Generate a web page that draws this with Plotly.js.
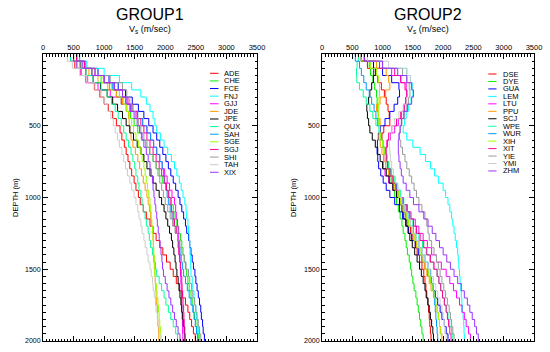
<!DOCTYPE html>
<html>
<head>
<meta charset="utf-8">
<script src="https://cdn.plot.ly/plotly-3.0.1.min.js"></script>
<style>html,body{margin:0;padding:0;background:#fff;}#chart{width:550px;height:352px;}</style>
</head>
<body>
<div id="chart"></div>
<script>
// Layer-top depths (m)
const depth = [0,50,100,150,200,250,300,350,400,450,500,550,600,650,700,750,800,850,900,950,1000,1050,1100,1150,1200,1250,1300,1350,1400,1450,1500,1550,1600,1650,1700,1750,1800,1850,1900,1950,2000];

// GROUP1 station names and Vs values (m/s) per layer
const group1Names = ["ADE","CHE","FCE","FNJ","GJJ","JDE","JPE","QUX","SAH","SGE","SGJ","SHI","TAH","XIX"];
const vsADE = [450,520,620,730,840,930,1000,1070,1140,1200,1260,1290,1330,1360,1390,1420,1450,1490,1520,1560,1590,1640,1690,1750,1800,1850,1910,1960,2020,2080,2130,2180,2230,2280,2330,2370,2400,2430,2460,2490,2510];
const vsCHE = [500,620,800,950,1090,1200,1280,1360,1430,1490,1550,1610,1680,1740,1800,1850,1900,1950,2010,2060,2100,2130,2160,2190,2220,2250,2270,2290,2310,2330,2350,2370,2390,2420,2440,2460,2480,2500,2520,2540,2560];
const vsFCE = [550,680,900,1080,1230,1350,1460,1560,1650,1730,1800,1860,1910,1960,2010,2050,2090,2130,2170,2210,2240,2270,2300,2330,2350,2380,2400,2420,2440,2460,2485,2500,2520,2540,2560,2580,2590,2610,2620,2640,2650];
const vsFNJ = [550,720,1000,1250,1450,1600,1690,1750,1800,1830,1860,1920,1980,2040,2100,2150,2190,2230,2260,2290,2320,2340,2350,2370,2380,2390,2400,2405,2410,2415,2420,2440,2450,2470,2480,2500,2510,2530,2540,2560,2570];
const vsGJJ = [450,550,620,700,900,1100,1280,1420,1540,1630,1700,1760,1810,1860,1910,1950,1990,2030,2070,2110,2150,2170,2180,2200,2210,2220,2230,2235,2240,2245,2250,2255,2260,2265,2268,2270,2275,2280,2283,2287,2290];
const vsJDE = [500,600,750,900,1060,1200,1300,1370,1400,1410,1420,1440,1470,1510,1550,1580,1610,1640,1670,1700,1720,1740,1760,1775,1790,1800,1805,1810,1815,1820,1830,1835,1845,1850,1860,1870,1875,1880,1890,1895,1900];
const vsJPE = [550,620,700,820,940,1050,1140,1220,1300,1360,1420,1480,1540,1600,1650,1700,1750,1800,1850,1900,1940,1980,2010,2040,2070,2100,2120,2140,2160,2175,2190,2210,2225,2240,2255,2270,2285,2295,2310,2320,2330];
const vsQUX = [450,560,700,820,950,1050,1120,1180,1230,1280,1320,1360,1400,1440,1470,1500,1520,1550,1570,1600,1620,1640,1670,1690,1720,1740,1760,1790,1810,1840,1860,1900,1940,1980,2010,2050,2090,2130,2170,2200,2240];
const vsSAH = [600,700,850,1000,1140,1250,1350,1450,1550,1630,1700,1760,1810,1860,1910,1950,1970,1990,2010,2030,2050,2080,2110,2140,2170,2200,2220,2240,2260,2280,2300,2330,2360,2390,2420,2450,2470,2490,2510,2525,2540];
const vsSGE = [500,630,800,960,1120,1250,1320,1370,1410,1450,1480,1520,1560,1590,1620,1650,1670,1690,1710,1730,1750,1760,1770,1780,1790,1800,1805,1810,1820,1825,1830,1840,1855,1865,1880,1890,1900,1910,1920,1930,1940];
const vsSGJ = [550,680,850,1000,1160,1300,1390,1470,1540,1600,1650,1700,1750,1800,1850,1900,1940,1980,2020,2050,2080,2100,2130,2150,2180,2200,2210,2220,2235,2250,2260,2270,2275,2285,2290,2300,2305,2310,2320,2325,2330];
const vsSHI = [500,620,800,1100,1300,1370,1420,1460,1510,1560,1600,1650,1700,1750,1800,1850,1880,1910,1940,1970,2000,2040,2080,2120,2160,2200,2240,2270,2310,2340,2380,2400,2430,2450,2480,2500,2520,2540,2560,2580,2600];
const vsTAH = [400,480,600,720,850,950,1010,1060,1110,1150,1180,1220,1250,1290,1320,1350,1380,1420,1450,1490,1520,1550,1570,1600,1620,1650,1670,1700,1720,1750,1770,1790,1800,1820,1840,1850,1870,1880,1900,1915,1930];
const vsXIX = [500,650,800,1000,1170,1300,1370,1430,1490,1540,1580,1620,1650,1690,1720,1750,1770,1790,1800,1815,1830,1845,1860,1870,1885,1900,1915,1930,1945,1955,1970,2000,2030,2060,2090,2120,2150,2180,2210,2240,2270];

// GROUP2 station names and Vs values (m/s) per layer
const group2Names = ["DSE","DYE","GUA","LEM","LTU","PPU","SCJ","WPE","WUR","XIH","XIT","YIE","YMI","ZHM"];
const vsDSE = [650,750,850,920,980,1030,1060,1090,1110,1120,1020,990,1000,1030,1060,1100,1140,1180,1220,1260,1300,1340,1380,1420,1460,1500,1540,1570,1610,1650,1680,1700,1715,1730,1745,1760,1770,1780,1790,1800,1810];
const vsDYE = [650,780,800,840,870,900,910,920,930,940,950,970,1000,1030,1050,1080,1110,1140,1170,1200,1230,1260,1290,1320,1340,1370,1390,1410,1440,1460,1480,1500,1520,1550,1570,1590,1610,1630,1650,1670,1690];
const vsGUA = [700,850,1000,1150,1270,1280,1250,1190,1120,1040,960,930,915,910,920,935,970,1010,1060,1120,1200,1280,1330,1380,1430,1480,1540,1590,1650,1700,1750,1790,1830,1870,1910,1950,1980,2020,2050,2080,2110];
const vsLEM = [700,1000,1400,1460,1490,1500,1470,1430,1390,1360,1340,1400,1500,1620,1710,1790,1860,1920,2000,2040,2080,2110,2140,2160,2180,2200,2220,2240,2250,2260,2270,2280,2290,2300,2310,2320,2330,2340,2345,2350,2360];
const vsLTU = [650,900,1150,1300,1390,1400,1380,1350,1310,1260,1200,1130,1080,1050,1020,1010,1040,1100,1170,1260,1330,1410,1470,1540,1600,1670,1740,1810,1890,1970,2050,2110,2170,2220,2270,2310,2350,2380,2420,2450,2470];
const vsPPU = [700,900,1060,1100,1120,1050,960,900,930,960,950,940,960,990,1020,1050,1100,1150,1200,1250,1300,1350,1390,1430,1480,1520,1560,1610,1650,1690,1730,1770,1800,1840,1870,1900,1920,1940,1960,1980,2000];
const vsSCJ = [650,850,880,850,820,790,770,740,750,770,790,830,880,920,960,1000,1060,1110,1170,1230,1280,1320,1350,1390,1420,1450,1490,1530,1570,1610,1640,1670,1700,1720,1750,1770,1790,1810,1830,1840,1850];
const vsWPE = [600,580,570,575,620,680,730,790,840,890,940,980,1010,1040,1070,1100,1150,1200,1250,1300,1350,1400,1450,1500,1550,1600,1660,1720,1780,1840,1900,1930,1960,1990,2020,2050,2080,2110,2140,2160,2190];
const vsWUR = [550,620,650,690,730,780,820,860,890,920,950,980,1000,1030,1050,1080,1130,1180,1230,1280,1330,1370,1420,1460,1510,1550,1600,1650,1700,1750,1790,1810,1830,1850,1860,1870,1880,1890,1900,1910,1920];
const vsXIH = [650,800,900,930,950,950,940,930,930,940,950,970,1000,1030,1050,1080,1120,1170,1210,1260,1300,1340,1390,1430,1480,1520,1570,1620,1670,1710,1760,1790,1820,1850,1880,1900,1920,1940,1950,1970,1980];
const vsXIT = [700,950,1200,1300,1370,1400,1390,1360,1300,1230,1150,1100,1070,1060,1070,1080,1120,1170,1220,1280,1340,1400,1450,1510,1560,1620,1680,1730,1790,1850,1900,1930,1960,1990,2020,2050,2070,2090,2110,2130,2150];
const vsYIE = [750,1000,1330,1400,1440,1450,1430,1400,1360,1320,1290,1280,1300,1330,1370,1400,1440,1480,1520,1560,1600,1650,1700,1730,1750,1770,1810,1850,1890,1920,1950,1980,2010,2040,2070,2100,2120,2140,2160,2180,2200];
const vsYMI = [750,1100,1400,1460,1470,1450,1400,1340,1270,1200,1150,1120,1110,1120,1130,1150,1180,1210,1250,1280,1320,1370,1410,1460,1500,1550,1600,1650,1700,1750,1800,1840,1880,1910,1950,1980,2000,2020,2030,2050,2060];
const vsZHM = [700,1000,1250,1400,1480,1510,1480,1410,1350,1310,1290,1270,1260,1260,1270,1290,1310,1340,1390,1450,1510,1600,1680,1750,1820,1880,1940,2000,2060,2120,2180,2240,2300,2350,2400,2440,2480,2520,2550,2580,2610];

const group1Vs = [vsADE,vsCHE,vsFCE,vsFNJ,vsGJJ,vsJDE,vsJPE,vsQUX,vsSAH,vsSGE,vsSGJ,vsSHI,vsTAH,vsXIX];
const group2Vs = [vsDSE,vsDYE,vsGUA,vsLEM,vsLTU,vsPPU,vsSCJ,vsWPE,vsWUR,vsXIH,vsXIT,vsYIE,vsYMI,vsZHM];

const colors = ["#ff0000","#00ee00","#0000ff","#00ffff","#ff00ff","#ff9900","#000000","#00ff99","#0099ff","#99ff00","#ff0099","#999999","#cccccc","#9933ff"];

const W = 550, H = 352;
const px = x => x / W;
const py = y => (H - y) / H;
const FONT = "Liberation Sans, Arial, sans-serif";

const traces = [];
group1Vs.forEach((v, i) => traces.push({
  x: v, y: depth, xaxis: "x", yaxis: "y", type: "scatter", mode: "lines",
  line: {shape: "vh", color: colors[i], width: 1}, name: group1Names[i], showlegend: false, hoverinfo: "skip"
}));
group2Vs.forEach((v, i) => traces.push({
  x: v, y: depth, xaxis: "x2", yaxis: "y2", type: "scatter", mode: "lines",
  line: {shape: "vh", color: colors[i], width: 1}, name: group2Names[i], showlegend: false, hoverinfo: "skip"
}));

function xAx(dom, anchor) {
  return {
    domain: dom, anchor: anchor, range: [0, 3500], side: "top",
    tickmode: "linear", tick0: 0, dtick: 500,
    ticks: "inside", ticklen: 5, tickwidth: 1, tickcolor: "#000",
    showline: true, linecolor: "#000", linewidth: 1, mirror: "allticks",
    showgrid: false, zeroline: false, fixedrange: true,
    tickfont: {size: 7.5, color: "#000", family: FONT},
    minor: {tickmode: "linear", tick0: 0, dtick: 50, ticks: "inside", ticklen: 2.5, tickcolor: "#000", showgrid: false}
  };
}
function yAx(anchor) {
  return {
    domain: [py(341), py(54)], anchor: anchor, range: [2000, 0],
    tickmode: "array", tickvals: [500, 1000, 1500, 2000],
    ticks: "inside", ticklen: 5, tickwidth: 1, tickcolor: "#000",
    showline: true, linecolor: "#000", linewidth: 1, mirror: "allticks",
    showgrid: false, zeroline: false, fixedrange: true,
    tickfont: {size: 7, color: "#000", family: FONT},
    minor: {tickmode: "linear", tick0: 0, dtick: 50, ticks: "inside", ticklen: 2.5, tickcolor: "#000", showgrid: false}
  };
}

const annotations = [];
const shapes = [];
function addHeader(cx, title, depthX) {
  annotations.push({xref: "paper", yref: "paper", x: px(cx), y: py(15), text: title, showarrow: false,
    xanchor: "center", yanchor: "middle", font: {size: 16, family: FONT, color: "#000"}});
  annotations.push({xref: "paper", yref: "paper", x: px(cx), y: py(30), text: "V<sub>s</sub> (m/sec)", showarrow: false,
    xanchor: "center", yanchor: "middle", font: {size: 9, family: FONT, color: "#000"}});
  annotations.push({xref: "paper", yref: "paper", x: px(depthX), y: py(198), text: "DEPTH (m)", showarrow: false,
    textangle: -90, xanchor: "center", yanchor: "middle", font: {size: 7.5, family: FONT, color: "#000"}});
}
addHeader(150, "GROUP1", 15);
addHeader(428, "GROUP2", 293);

function addLegend(names, x0, x1, tx, y0, dy) {
  names.forEach((n, i) => {
    const y = y0 + i * dy;
    shapes.push({type: "line", xref: "paper", yref: "paper", x0: px(x0), x1: px(x1), y0: py(y), y1: py(y),
      line: {color: colors[i], width: 1}});
    annotations.push({xref: "paper", yref: "paper", x: px(tx), y: py(y), text: n, showarrow: false,
      xanchor: "left", yanchor: "middle", borderpad: 0, font: {size: 7.5, family: FONT, color: "#000"}});
  });
}
addLegend(group1Names, 210, 218.5, 222.5, 73.3, 7.615);
addLegend(group2Names, 488.3, 496.5, 502, 74, 7.46);

const layout = {
  width: W, height: H, margin: {l: 0, r: 0, t: 0, b: 0},
  paper_bgcolor: "#fff", plot_bgcolor: "#fff", showlegend: false,
  font: {family: FONT, color: "#000"},
  xaxis: xAx([px(43), px(257)], "y"),
  yaxis: yAx("x"),
  xaxis2: xAx([px(322), px(534)], "y2"),
  yaxis2: yAx("x2"),
  annotations: annotations, shapes: shapes
};

Plotly.newPlot("chart", traces, layout, {staticPlot: true, displayModeBar: false});
</script>
</body>
</html>
